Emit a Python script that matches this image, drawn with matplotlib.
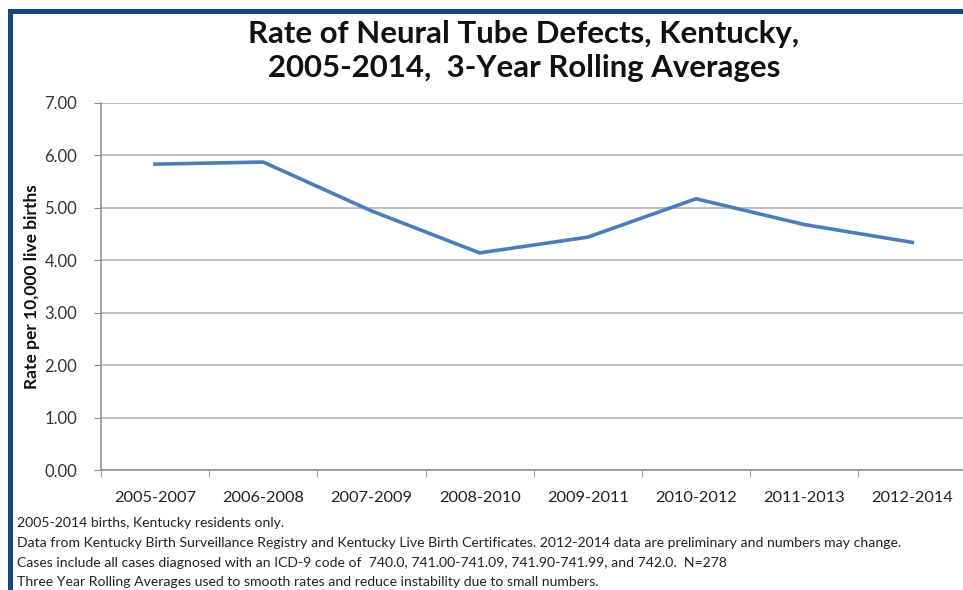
import matplotlib
matplotlib.use("Agg")
import matplotlib.pyplot as plt
from matplotlib.patches import Rectangle

categories = ["2005-2007", "2006-2008", "2007-2009", "2008-2010",
              "2009-2011", "2010-2012", "2011-2013", "2012-2014"]
rates = [5.83, 5.87, 4.94, 4.14, 4.44, 5.17, 4.68, 4.34]
yticks = [0, 1, 2, 3, 4, 5, 6, 7]
title = "Rate of Neural Tube Defects, Kentucky,\n2005-2014,  3-Year Rolling Averages"
ylabel = "Rate per 10,000 live births"
notes = [
    "2005-2014 births, Kentucky residents only.",
    "Data from Kentucky Birth Surveillance Registry and Kentucky Live Birth Certificates. 2012-2014 data are preliminary and numbers may change.",
    "Cases include all cases diagnosed with an ICD-9 code of  740.0, 741.00-741.09, 741.90-741.99, and 742.0.  N=278",
    "Three Year Rolling Averages used to smooth rates and reduce instability due to small numbers.",
]

W, H = 963, 590
fig = plt.figure(figsize=(W / 100, H / 100), dpi=100)
fig.patch.set_facecolor("white")

FONT = ["Lato", "DejaVu Sans"]
NARROW = ["Liberation Sans Narrow", "Lato", "DejaVu Sans"]

# border (left and top)
border = "#17467a"
fig.patches.append(Rectangle((7.5 / W, 0), 5 / W, (H - 9) / H, transform=fig.transFigure,
                             facecolor=border, edgecolor="none"))
fig.patches.append(Rectangle((7.5 / W, (H - 13.5) / H), 1 - 7.5 / W, 4.5 / H,
                             transform=fig.transFigure, facecolor=border, edgecolor="none"))

left, right = 100.9, 966.5
top, bottom = 102.7, 470.3
ax = fig.add_axes([left / W, (H - bottom) / H, (right - left) / W, (bottom - top) / H])

x = list(range(len(categories)))
ax.plot(x, rates, color="#4a7ebb", lw=2.6, solid_joinstyle="round", zorder=3, clip_on=False)

ax.set_xlim(-0.5, len(categories) - 0.5)
ax.set_ylim(0, 7)
ax.set_yticks(yticks)
ax.set_yticklabels([f"{v:.2f}" for v in yticks])
ax.set_xticks(x)
ax.set_xticklabels(categories)
ax.set_xticks([i + 0.5 for i in range(-1, len(categories))], minor=True)

ax.grid(axis="y", color="#b0b0b0", lw=1.1)
ax.set_axisbelow(True)
for s in ["top", "right"]:
    ax.spines[s].set_visible(False)
for s in ["left", "bottom"]:
    ax.spines[s].set_color("#8c8c8c")
    ax.spines[s].set_linewidth(1.1)

ax.tick_params(axis="y", which="major", length=5, color="#8c8c8c", pad=12,
               labelsize=12, labelcolor="#333333")
ax.tick_params(axis="x", which="major", length=0, pad=15, labelsize=11.8, labelcolor="#222222")
ax.tick_params(axis="x", which="minor", length=5, color="#8c8c8c")
for lab in ax.get_xticklabels() + ax.get_yticklabels():
    lab.set_family(FONT)

fig.text(32 / W, 1 - 286.5 / H, ylabel, rotation=90, ha="center", va="center",
         fontsize=12.5, fontweight="bold", family=FONT, color="#111111")

fig.text(524 / W, 1 - 51 / H, title, ha="center", va="center", fontsize=22.4,
         fontweight="bold", family=FONT, color="#111111", linespacing=1.3)

ys = [523, 543, 563, 582]
for t, yy in zip(notes, ys):
    fig.text(17 / W, 1 - yy / H, t, ha="left", va="center", fontsize=10.1,
             family=NARROW, color="#222222")

fig.savefig("out.png", dpi=100, facecolor="white")
